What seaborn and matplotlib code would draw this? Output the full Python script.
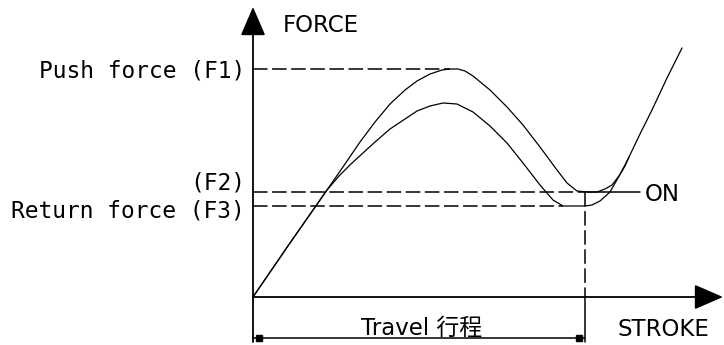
"""
Force-stroke diagram of a tactile switch: push curve, return curve,
the three force levels F1/F2/F3 and the travel dimension.
"""

import matplotlib
matplotlib.use("Agg")
import matplotlib.pyplot as plt
import seaborn as sns

# Push (actuation) curve, stroke vs force in drawing units
push_stroke = [0, 37, 74, 92, 107, 122, 137, 152, 164, 177, 189, 197, 205, 212,
               220, 237, 254, 270, 287, 304, 314, 324, 334, 344, 352, 359, 366,
               372, 376, 387, 399, 414, 429]
push_force = [0, 54, 107, 133, 155, 175, 193, 207, 216, 223, 227, 228, 228, 226,
              221, 207, 190, 172, 150, 127, 114, 106, 105, 105, 108, 112, 121,
              132, 140, 163, 187, 219, 249]

# Return curve
return_stroke = [0, 37, 74, 86, 98, 110, 122, 137, 152, 164, 177, 190, 204, 220,
                 237, 254, 270, 287, 300, 310, 332, 339, 347, 357, 365, 372, 376]
return_force = [0, 54, 107, 121, 133, 144, 155, 168, 178, 186, 191, 194, 193, 185,
                171, 154, 134, 112, 97, 91, 91, 92, 96, 105, 119, 131, 140]

# Force levels and where their guide lines stop
level_names = ["Push force (F1)", "(F2)", "Return force (F3)"]
level_values = [228, 105, 91]
level_ends = [197, 332, 310]

travel = 332          # end of travel (ON position)
on_line_end = 387     # solid ON marker line
travel_label = "Travel 行程"


def main() -> None:
    sns.set_theme(style="white")
    plt.rcParams["font.family"] = ["DejaVu Sans", "Noto Sans CJK SC"]

    fig = plt.figure(figsize=(7.24, 3.45), dpi=100)
    ax = fig.add_axes([0, 0, 1, 1])
    ax.set_xlim(-253, 471)
    ax.set_ylim(-48, 297)
    ax.axis("off")

    dash = (0, (9.5, 3))
    fs = 16.5
    mono = dict(family="DejaVu Sans Mono", fontsize=16.5, color="black")

    # curves
    sns.lineplot(x=push_stroke, y=push_force, sort=False, estimator=None,
                 color="black", lw=0.9, ax=ax)
    sns.lineplot(x=return_stroke, y=return_force, sort=False, estimator=None,
                 color="black", lw=0.9, ax=ax)

    # axes with arrow heads
    head = "-|>,head_length=1.5,head_width=0.65"
    ax.annotate("", xy=(0, 290), xytext=(0, -45),
                arrowprops=dict(arrowstyle=head, color="black", lw=1.3,
                                shrinkA=0, shrinkB=0))
    ax.annotate("", xy=(470, 0), xytext=(0, 0),
                arrowprops=dict(arrowstyle=head, color="black", lw=1.3,
                                shrinkA=0, shrinkB=0))

    # force level guide lines and labels
    for val, end in zip(level_values, level_ends):
        ax.plot([0, end], [val, val], color="black", lw=1.1, ls=dash)
    ax.text(-8, level_values[0] - 8, level_names[0], ha="right",
            va="baseline", **mono)
    ax.text(-8, level_values[1] + 3, level_names[1], ha="right",
            va="baseline", **mono)
    ax.text(-8, level_values[2] - 11, level_names[2], ha="right",
            va="baseline", **mono)

    # ON marker
    ax.plot([travel, on_line_end], [level_values[1]] * 2, color="black", lw=1.1)
    ax.text(on_line_end + 5, level_values[1] - 9, "ON", ha="left",
            va="baseline", fontsize=fs, color="black")

    # travel end and dimension line
    ax.plot([travel, travel], [level_values[1], 0], color="black", lw=1.1,
            ls=dash)
    ax.plot([travel, travel], [0, -45], color="black", lw=1.1)
    ax.plot([0, travel], [-41, -41], color="black", lw=1.1)
    ax.plot([6, travel - 6], [-41, -41], ls="none", marker="s",
            markersize=3.8, color="black")
    ax.text(travel / 2 + 3, -38, travel_label, ha="center", va="baseline",
            fontsize=fs, color="black")

    # axis titles
    ax.text(30, 265, "FORCE", ha="left", va="baseline", fontsize=fs,
            color="black")
    ax.text(456, -39, "STROKE", ha="right", va="baseline", fontsize=fs,
            color="black")

    fig.savefig("out.png", dpi=100)
    plt.close(fig)


if __name__ == "__main__":
    main()
